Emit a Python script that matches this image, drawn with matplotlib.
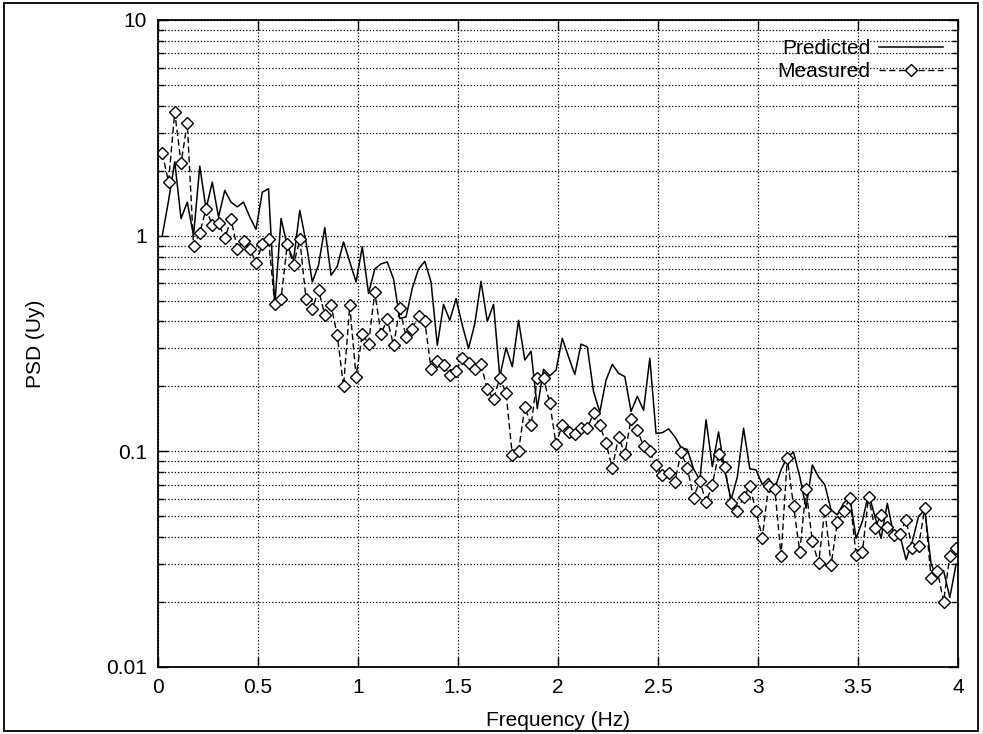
import numpy as np
import matplotlib
matplotlib.use("Agg")
import matplotlib.pyplot as plt
from matplotlib.patches import Rectangle
from matplotlib.ticker import LogLocator, FixedLocator, NullFormatter

plt.rcParams['font.family'] = ['Liberation Sans', 'DejaVu Sans']

freq_start = 0.0215
freq_step = 0.03125
n_points = 128

measured = [2.41, 1.78, 3.74, 2.17, 3.32, 0.90, 1.03, 1.33, 1.12, 1.15,
            0.97, 1.19, 0.87, 0.94, 0.87, 0.75, 0.91, 0.96, 0.48, 0.51,
            0.91, 0.73, 0.96, 0.51, 0.456, 0.56, 0.43, 0.475, 0.345, 0.20,
            0.475, 0.222, 0.35, 0.316, 0.545, 0.35, 0.41, 0.31, 0.46, 0.34,
            0.37, 0.425, 0.40, 0.242, 0.262, 0.251, 0.226, 0.235, 0.272, 0.258,
            0.24, 0.253, 0.194, 0.174, 0.219, 0.186, 0.096, 0.10, 0.161, 0.132,
            0.219, 0.218, 0.167, 0.108, 0.133, 0.123, 0.12, 0.128, 0.128, 0.15,
            0.132, 0.109, 0.0834, 0.117, 0.097, 0.141, 0.125, 0.106, 0.10, 0.086,
            0.078, 0.079, 0.072, 0.099, 0.084, 0.061, 0.073, 0.058, 0.07, 0.097,
            0.085, 0.0574, 0.0526, 0.0617, 0.0687, 0.0526, 0.0398, 0.069, 0.067, 0.0327,
            0.093, 0.0555, 0.0343, 0.067, 0.0382, 0.0303, 0.0535, 0.0298, 0.047, 0.0526,
            0.061, 0.0331, 0.034, 0.0617, 0.044, 0.0507, 0.0448, 0.0408, 0.0415, 0.048,
            0.0358, 0.0365, 0.0545, 0.0258, 0.0279, 0.0201, 0.0327, 0.0356]

predicted = [1.0, 1.45, 2.2, 1.2, 1.43, 1.0, 2.1, 1.33, 1.77, 1.22,
             1.62, 1.43, 1.36, 1.43, 1.22, 1.07, 1.59, 1.65, 0.475, 1.2,
             0.9, 0.77, 1.31, 0.935, 0.61, 0.73, 1.09, 0.655, 0.72, 0.935,
             0.755, 0.61, 0.887, 0.54, 0.70, 0.74, 0.755, 0.63, 0.413, 0.42,
             0.57, 0.70, 0.76, 0.61, 0.31, 0.48, 0.405, 0.51, 0.385, 0.30,
             0.39, 0.614, 0.40, 0.48, 0.222, 0.302, 0.247, 0.405, 0.265, 0.291,
             0.158, 0.24, 0.224, 0.238, 0.334, 0.274, 0.227, 0.314, 0.305, 0.189,
             0.152, 0.214, 0.253, 0.23, 0.222, 0.153, 0.18, 0.155, 0.27, 0.121,
             0.122, 0.127, 0.117, 0.104, 0.102, 0.083, 0.0736, 0.14, 0.085, 0.123,
             0.081, 0.0595, 0.076, 0.128, 0.083, 0.082, 0.07, 0.075, 0.0674, 0.082,
             0.0945, 0.099, 0.076, 0.0545, 0.0864, 0.076, 0.07, 0.0535, 0.0507, 0.0574,
             0.0617, 0.0395, 0.0473, 0.064, 0.05, 0.0395, 0.0574, 0.041, 0.041, 0.0314,
             0.0382, 0.05, 0.0535, 0.03, 0.026, 0.028, 0.021, 0.03]

freq = freq_start + freq_step * np.arange(n_points)

x_ticks = [0, 0.5, 1, 1.5, 2, 2.5, 3, 3.5, 4]
x_tick_labels = ['0', '0.5', '1', '1.5', '2', '2.5', '3', '3.5', '4']
y_ticks = [0.01, 0.1, 1, 10]
y_tick_labels = ['0.01', '0.1', '1', '10']

fig = plt.figure(figsize=(9.83, 7.34), dpi=100)
ax = fig.add_axes([0.1607, 0.0913, 0.8139, 0.8815])

ax.plot(freq, predicted, color='black', lw=1.1, label='Predicted')
ax.plot(freq, measured, color='black', lw=1.0, ls=(0, (4.5, 2.5)),
        marker='D', markersize=6, markerfacecolor='white',
        markeredgecolor='black', markeredgewidth=1.0, label='Measured')

ax.set_yscale('log')
ax.set_xlim(0, 4)
ax.set_ylim(0.01, 10)

ax.xaxis.set_major_locator(FixedLocator(x_ticks))
ax.set_xticklabels(x_tick_labels)
ax.yaxis.set_major_locator(FixedLocator(y_ticks))
ax.set_yticklabels(y_tick_labels)
ax.yaxis.set_minor_locator(LogLocator(base=10, subs=np.arange(2, 10)))
ax.yaxis.set_minor_formatter(NullFormatter())

ax.grid(True, which='major', axis='both', color='black', ls=(0, (1, 1.6)), lw=0.9)
ax.grid(True, which='minor', axis='y', color='black', ls=(0, (1, 1.6)), lw=0.9)

ax.tick_params(which='both', direction='in', top=True, right=True,
               labelsize=15, width=1.0, color='black')
ax.tick_params(which='major', length=7, pad=8)
ax.tick_params(which='minor', length=4)
for s in ax.spines.values():
    s.set_linewidth(1.3)

ax.set_xlabel('Frequency (Hz)', fontsize=15, labelpad=10)
ax.set_ylabel('PSD (Uy)', fontsize=15, labelpad=44)

ax.legend(loc='upper right', frameon=False, markerfirst=False, fontsize=15,
          handlelength=3.1, handletextpad=0.4, borderaxespad=0.2,
          labelspacing=0.2, bbox_to_anchor=(0.997, 0.99))

fig.patches.append(Rectangle((0.004, 0.004), 0.991, 0.992, transform=fig.transFigure,
                             fill=False, edgecolor='black', lw=1.3))

fig.savefig('out.png', dpi=100, facecolor='white')
